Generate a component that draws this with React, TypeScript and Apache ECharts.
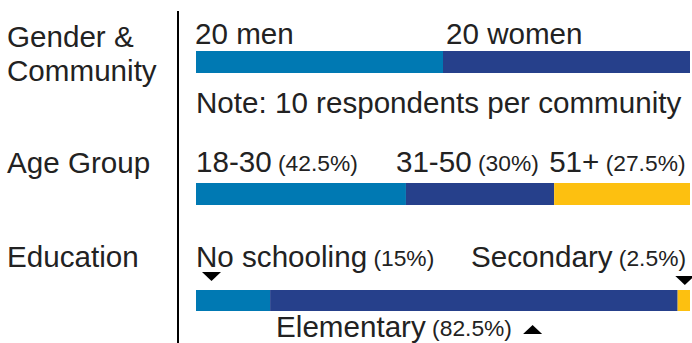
import React, { useEffect, useRef } from "react";
import * as echarts from "echarts";

// ---- data ----
const ROW_TITLES = ["Gender &\nCommunity", "Age Group", "Education"];
const GENDER_LABELS = ["20 men", "20 women"];
const GENDER_COUNTS = [20, 20];
const AGE_GROUPS = ["18-30", "31-50", "51+"];
const AGE_PCT = [42.5, 30, 27.5];
const EDUCATION_LEVELS = ["No schooling", "Elementary", "Secondary"];
const EDUCATION_PCT = [15, 82.5, 2.5];
const NOTE = "Note: 10 respondents per community";

// ---- styles / layout ----
const COLORS = ["#0079B3", "#26408B", "#FDC010"];
const FONT = "'Liberation Sans', Arial, Helvetica, sans-serif";
const TEXT = "#222";
const BIG = 29.6;
const SMALL = 22.8;
const GRID_LEFT = 196;
const GRID_RIGHT = 2;
const BAR_TOPS = [51, 183, 290];
const BAR_HEIGHTS = [22, 22, 21];
const TITLE_Y = [53, 162, 256];

type LabelLayout = { position: any; align?: string; offset?: number[] };
const LABEL_LAYOUT: LabelLayout[][] = [
  [{ position: [-1, -18] }, { position: [3, -18] }],
  [{ position: [0, -22] }, { position: [-10, -22] }, { position: [-5, -22] }],
  [
    { position: [0, -34] },
    { position: [6, 36] },
    { position: ["100%", -34], align: "right", offset: [-4, 0] },
  ],
];

const ROWS = [
  { names: GENDER_LABELS, values: GENDER_COUNTS, pct: false },
  { names: AGE_GROUPS, values: AGE_PCT, pct: true },
  { names: EDUCATION_LEVELS, values: EDUCATION_PCT, pct: true },
];

export default function App() {
  const ref = useRef<HTMLDivElement>(null);

  useEffect(() => {
    if (!ref.current) return;
    const chart = echarts.init(ref.current, undefined, { renderer: "svg" });

    const grid = ROWS.map((_, i) => ({
      left: GRID_LEFT,
      right: GRID_RIGHT,
      top: BAR_TOPS[i],
      height: BAR_HEIGHTS[i],
    }));
    const xAxis = ROWS.map((r, i) => ({
      type: "value",
      gridIndex: i,
      min: 0,
      max: r.values.reduce((a, b) => a + b, 0),
      show: false,
    }));
    const yAxis = ROWS.map((_, i) => ({
      type: "category",
      gridIndex: i,
      data: [ROW_TITLES[i]],
      show: false,
    }));

    const series: any[] = [];
    ROWS.forEach((r, i) => {
      r.names.forEach((name, j) => {
        const lay = LABEL_LAYOUT[i][j];
        series.push({
          type: "bar",
          name,
          xAxisIndex: i,
          yAxisIndex: i,
          stack: "row" + i,
          barWidth: "100%",
          data: [r.values[j]],
          itemStyle: { color: COLORS[j] },
          label: {
            show: true,
            position: lay.position,
            align: lay.align || "left",
            verticalAlign: "middle",
            offset: lay.offset || [0, 0],
            formatter: r.pct
              ? `{b|${name}}{s| (${r.values[j]}%)}`
              : `{b|${name}}`,
            rich: {
              b: { fontSize: BIG, fontFamily: FONT, color: TEXT },
              s: {
                fontSize: SMALL,
                fontFamily: FONT,
                color: TEXT,
                padding: [4, 0, 0, 0],
              },
            },
          },
        });
      });
    });

    const staticGraphic: any[] = [
      {
        type: "rect",
        id: "divider",
        shape: { x: 177, y: 11, width: 2, height: 340 },
        style: { fill: "#000" },
      },
      ...ROW_TITLES.map((t, i) => ({
        type: "text",
        id: "title" + i,
        x: 7,
        y: TITLE_Y[i],
        style: {
          text: t,
          fontSize: BIG,
          fontFamily: FONT,
          fill: TEXT,
          lineHeight: 34,
          verticalAlign: "middle",
          align: "left",
        },
      })),
      {
        type: "text",
        id: "note",
        x: 196,
        y: 102,
        style: {
          text: NOTE,
          fontSize: BIG,
          fontFamily: FONT,
          fill: TEXT,
          verticalAlign: "middle",
          align: "left",
        },
      },
    ];

    chart.setOption({
      animation: false,
      backgroundColor: "#fff",
      grid,
      xAxis,
      yAxis,
      series,
      graphic: staticGraphic,
    });

    // triangles pointing at education segments
    const eduIdx = 2;
    const cat = ROW_TITLES[eduIdx];
    const px = (v: number) =>
      chart.convertToPixel({ xAxisIndex: eduIdx, yAxisIndex: eduIdx }, [v, cat]) as number[];
    const start = px(0);
    const elemStart = px(EDUCATION_PCT[0]);
    const secStart = px(EDUCATION_PCT[0] + EDUCATION_PCT[1]);
    const secEnd = px(EDUCATION_PCT[0] + EDUCATION_PCT[1] + EDUCATION_PCT[2]);
    const barTop = start[1] - BAR_HEIGHTS[eduIdx] / 2;
    const secMid = (secStart[0] + secEnd[0]) / 2;

    const tri = (id: string, cx: number, yTop: number, down: boolean) => ({
      type: "polygon",
      id,
      shape: {
        points: down
          ? [
              [cx - 9.5, yTop],
              [cx + 9.5, yTop],
              [cx, yTop + 9],
            ]
          : [
              [cx - 9.5, yTop + 9],
              [cx + 9.5, yTop + 9],
              [cx, yTop],
            ],
      },
      style: { fill: "#000" },
    });

    chart.setOption({
      graphic: [
        tri("t1", start[0] + 15.5, barTop - 18, true),
        tri("t2", secMid + 1, barTop - 14, true),
        tri("t3", elemStart[0] + 262.5, barTop + 35, false),
      ],
    });

    return () => chart.dispose();
  }, []);

  return (
    <div
      ref={ref}
      style={{ position: "absolute", left: 0, top: 0, width: 692, height: 343 }}
    />
  );
}
